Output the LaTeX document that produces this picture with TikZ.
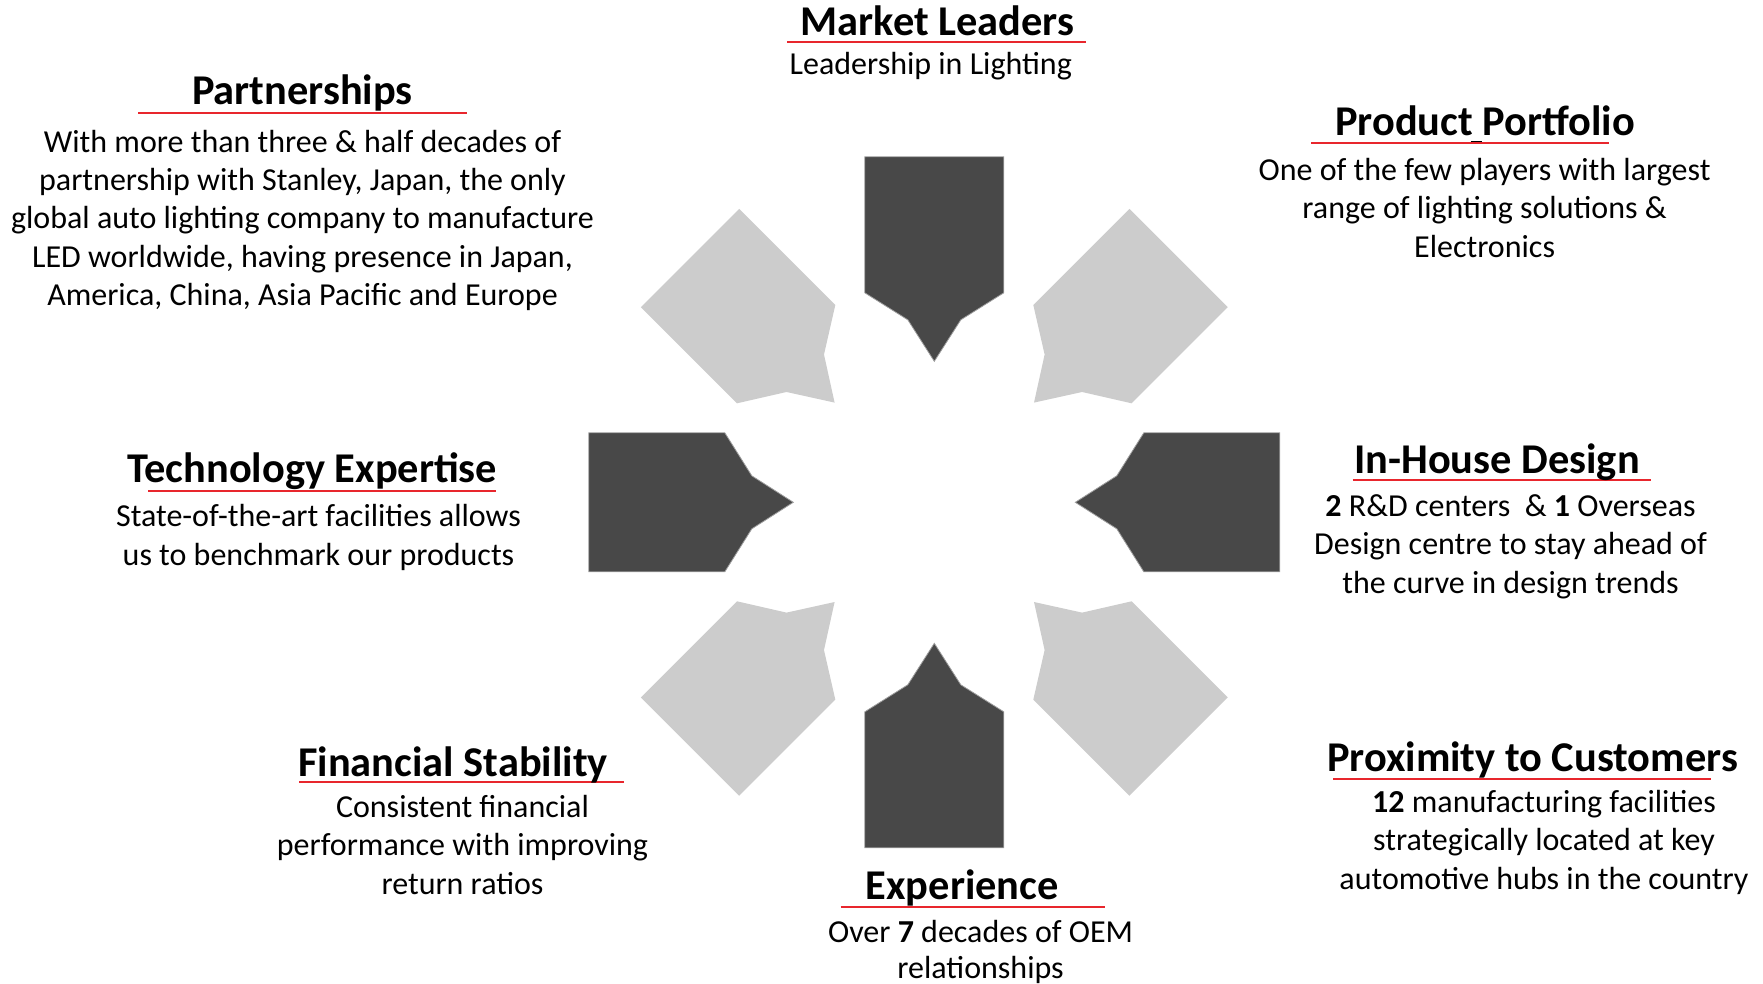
\documentclass[tikz,border=0pt]{standalone}
\usepackage{fontspec}
\setmainfont{Carlito}
\definecolor{darkshape}{HTML}{484848}
\definecolor{lightshape}{HTML}{CCCCCC}
\definecolor{ulred}{HTML}{E8262D}
\tikzset{
  titletext/.style={anchor=base, inner sep=0pt, font=\fontsize{42.4}{50}\selectfont\bfseries},
  bodytext/.style={anchor=base, inner sep=0pt, align=center, font=\fontsize{32}{#1}\selectfont},
  bodytext/.default=38.3,
  redline/.style={draw=ulred, line width=2pt},
  darkarrow/.style={fill=darkshape, draw=gray!75, line width=0.8pt},
  lightarrow/.style={fill=lightshape},
}
\begin{document}
\begin{tikzpicture}[x=1pt,y=-1pt]
\useasboundingbox (0,0) rectangle (1763,983);
% central arrow shapes
\foreach \a in {45,135,225,315} {
  \path[lightarrow, shift={(934.3,502.3)}, rotate=\a]
    (141,0) -- (182.5,26.5) -- (209.5,69.5) -- (345.5,69.5) -- (345.5,-69.5) -- (209.5,-69.5) -- (182.5,-26.5) -- cycle;
}
\foreach \a in {0,90,180,270} {
  \path[darkarrow, shift={(934.3,502.3)}, rotate=\a]
    (141,0) -- (182.5,26.5) -- (209.5,69.5) -- (345.5,69.5) -- (345.5,-69.5) -- (209.5,-69.5) -- (182.5,-26.5) -- cycle;
}
% Market Leaders
\draw[redline] (787,41.7) -- (1086,41.7);
\node[titletext] (mlT) at (937.5,35.5) {Market Leaders};
\node[bodytext] (mlB) at (930.8,74.5) {Leadership in Lighting};
% Partnerships
\draw[redline] (138.4,113.3) -- (466.6,113.3);
\node[titletext] (ptT) at (302.5,104) {Partnerships};
\node[bodytext] (ptB) at (302.5,305.5) {With more than three \& half decades of\\partnership with Stanley, Japan, the only\\global auto lighting company to manufacture\\LED worldwide, having presence in Japan,\\America, China, Asia Pacific and Europe};
% Product Portfolio
\draw[redline] (1311,143.3) -- (1609.4,143.3);
\draw[black, line width=1.6pt] (1470.6,141.6) -- (1482.3,141.6);
\node[titletext] (ppT) at (1485.2,135) {Product Portfolio};
\node[bodytext] (ppB) at (1484.6,257.2) {One of the few players with largest\\range of lighting solutions \&\\Electronics};
% In-House Design
\draw[redline] (1352.5,480) -- (1651.2,480);
\node[titletext] (ihT) at (1497,473.3) {In-House Design};
\node[bodytext] (ihB) at (1510.5,593) {\textbf{2} R\&D centers\ \ \& \textbf{1} Overseas\\Design centre to stay ahead of\\the curve in design trends};
% Proximity to Customers
\draw[redline] (1333.3,779.3) -- (1711,779.3);
\node[titletext] (pcT) at (1532.5,771.7) {Proximity to Customers};
\node[bodytext] (pcB) at (1544,889) {\textbf{12} manufacturing facilities\\strategically located at key\\automotive hubs in the country};
% Experience
\draw[redline] (840.7,907.3) -- (1105,907.3);
\node[titletext] (exT) at (962.3,899.3) {Experience};
\node[bodytext=36.8] (exB) at (980.6,978.8) {Over \textbf{7} decades of OEM\\relationships};
% Technology Expertise
\draw[redline] (148.3,491) -- (496,491);
\node[titletext] (teT) at (312.2,482.7) {Technology Expertise};
\node[bodytext] (teB) at (318.5,565) {State-of-the-art facilities allows\\us to benchmark our products};
% Financial Stability
\draw[redline] (299.3,781.7) -- (624,781.7);
\node[titletext] (fsT) at (453,776.7) {Financial Stability};
\node[bodytext] (fsB) at (462.5,894) {Consistent financial\\performance with improving\\return ratios};
\end{tikzpicture}
\end{document}
